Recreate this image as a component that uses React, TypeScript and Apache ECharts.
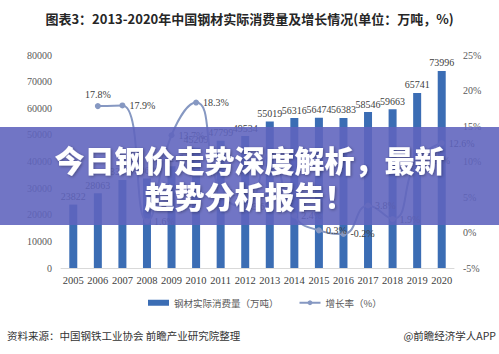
import React, { useEffect, useRef } from "react";
import * as echarts from "echarts";

const years = ["2005", "2006", "2007", "2008", "2009", "2010", "2011", "2012", "2013", "2014", "2015", "2016", "2017", "2018", "2019", "2020"];
const consumption = [23822, 28063, 33077, 33620, 38215, 45209, 47799, 49534, 55019, 56316, 56474, 56383, 58546, 59663, 65741, 73996];
const growth = [null, 17.8, 17.9, 1.6, 13.7, 18.3, 5.7, 3.6, 11.1, 2.4, 0.3, -0.2, 3.8, 1.9, 10.2, 12.6];
const leftTicks = { min: 0, max: 80000, interval: 10000 };
const rightTicks = { min: -5, max: 25, interval: 5 };

const titleText = "图表3：2013-2020年中国钢材实际消费量及增长情况(单位：万吨，%)";
const barName = "钢材实际消费量（万吨）";
const lineName = "增长率（%）";
const sourceText = "资料来源：中国钢铁工业协会 前瞻产业研究院整理";
const brandText = "@前瞻经济学人APP";
const bannerLine1 = "今日钢价走势深度解析，最新";
const bannerLine2 = "趋势分析报告！";

export default function App() {
  const ref = useRef<HTMLDivElement>(null);
  useEffect(() => {
    if (!ref.current) return;
    const chart = echarts.init(ref.current, null, { renderer: "svg" });
    const serif = "'Liberation Serif', 'Times New Roman', serif";
    const sans = "'Noto Sans CJK SC', 'Noto Sans', sans-serif";
    const bannerStyle = {
      fill: "#ffffff",
      fontSize: 30,
      fontWeight: 900,
      fontFamily: sans,
      textShadowColor: "rgba(0,0,0,0.35)",
      textShadowBlur: 3,
      textShadowOffsetX: 1,
      textShadowOffsetY: 1,
    };
    chart.setOption({
      animation: false,
      backgroundColor: "#ffffff",
      title: {
        text: titleText,
        left: "center",
        top: 7,
        textStyle: { fontSize: 13, fontWeight: "bold", color: "#262626", fontFamily: sans },
      },
      grid: { left: 61, right: 45, top: 55, bottom: 86 },
      legend: {
        left: 143,
        top: 293,
        itemGap: 20,
        itemWidth: 21,
        itemHeight: 6,
        textStyle: { fontSize: 9.5, color: "#595959", fontFamily: sans },
        data: [
          { name: barName, icon: "rect" },
          { name: lineName },
        ],
      },
      xAxis: {
        type: "category",
        data: years,
        axisLine: { lineStyle: { color: "#d9d9d9" } },
        axisTick: { show: false },
        axisLabel: { color: "#404040", fontSize: 10.5, fontFamily: serif, margin: 7, interval: 0 },
      },
      yAxis: [
        {
          type: "value",
          min: leftTicks.min,
          max: leftTicks.max,
          interval: leftTicks.interval,
          splitLine: { show: false },
          axisLine: { show: false },
          axisTick: { show: false },
          axisLabel: {
            color: "#595959",
            fontSize: 10,
            fontFamily: serif,
            margin: 9,
            formatter: (v: number) => String(v),
          },
        },
        {
          type: "value",
          min: rightTicks.min,
          max: rightTicks.max,
          interval: rightTicks.interval,
          splitLine: { show: false },
          axisLine: { show: false },
          axisTick: { show: false },
          axisLabel: { color: "#595959", fontSize: 10, fontFamily: serif, margin: 9, formatter: "{value}%" },
        },
      ],
      series: [
        {
          name: barName,
          type: "bar",
          data: consumption,
          barWidth: 8,
          itemStyle: { color: "#3b6db4" },
          label: {
            show: true,
            position: "top",
            distance: 3,
            color: "#404040",
            fontSize: 10,
            fontFamily: serif,
          },
        },
        {
          name: lineName,
          type: "line",
          yAxisIndex: 1,
          data: growth.map((v, i) =>
            i === 1 ? { value: v, label: { position: "top" } } : v
          ),
          smooth: 0.5,
          connectNulls: false,
          symbol: "circle",
          symbolSize: 6,
          lineStyle: { color: "#8698c2", width: 2 },
          itemStyle: { color: "#8698c2" },
          label: {
            show: true,
            position: "right",
            distance: 4,
            formatter: (p: any) => `${p.value}%`,
            color: "#404040",
            fontSize: 10,
            fontFamily: serif,
          },
          z: 3,
        },
      ],
      graphic: [
        {
          type: "rect",
          left: 0,
          top: 127,
          z: 100,
          shape: { width: 499, height: 98 },
          style: { fill: "rgba(95,100,190,0.89)" },
        },
        {
          type: "text",
          left: "center",
          top: 144,
          z: 101,
          style: { ...bannerStyle, text: bannerLine1 },
        },
        {
          type: "text",
          left: "center",
          top: 180,
          z: 101,
          style: { ...bannerStyle, text: bannerLine2 },
        },
        {
          type: "text",
          left: 7,
          top: 330,
          style: { text: sourceText, fill: "#333333", fontSize: 10.5, fontFamily: sans },
        },
        {
          type: "text",
          right: 3,
          top: 330,
          style: { text: brandText, fill: "#333333", fontSize: 10.5, fontFamily: sans },
        },
      ],
    });
    return () => chart.dispose();
  }, []);
  return (
    <div
      ref={ref}
      style={{ position: "fixed", left: 0, top: 0, width: 499, height: 354 }}
    />
  );
}
